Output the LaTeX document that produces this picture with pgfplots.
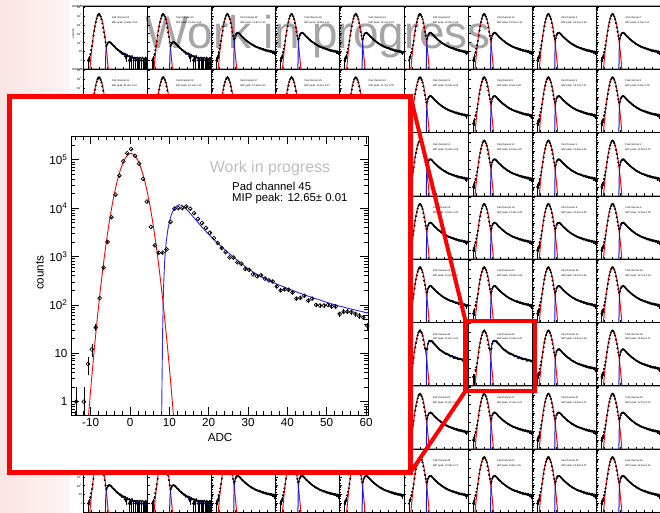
\documentclass[border=0pt]{standalone}
\usepackage{pgfplots}
\pgfplotsset{compat=1.18}
\usepackage{pgfplotstable}
\usepackage{fontspec}
\setmainfont{Liberation Sans}

% ---------- inset data (Pad channel 45) ----------
\pgfplotstableread{
x y e
-13.7 1 0.99
-11.7 1 0.99
-10.7 6 2.4
-9.7 12 3.5
-8.7 34 5.8
-7.7 138 11.7
-6.7 590 24
-5.7 2000 45
-4.7 6500 81
-3.7 19000 138
-2.7 47000 217
-1.7 93000 305
-0.7 137000 370
0.3 166000 407
1.3 120000 346
2.3 83000 288
3.3 40000 200
4.3 13700 117
5.3 4100 64
6.3 1700 41
7.3 1200 35
8.3 1200 35
9.3 1400 37
10.3 5200 72
11.3 9700 98
12.3 10000 100
13.3 10000 100
14.3 10800 104
15.3 9700 98
16.3 7900 89
17.3 6000 77
18.3 4900 70
19.3 3900 62
20.3 3100 56
21.3 2400 49
22.3 1900 44
23.3 1500 39
24.3 1230 35
25.3 960 31
26.3 950 31
27.3 760 28
28.3 710 27
29.3 550 23
30.3 530 23
31.3 430 21
32.3 390 20
33.3 410 20
34.3 350 19
35.3 320 18
36.3 305 17
37.3 240 15.5
38.3 200 14
39.3 210 14.5
40.3 205 14.3
41.3 180 13.4
42.3 135 11.6
43.3 140 11.8
44.3 155 12.4
45.3 123 11
46.3 135 11.6
47.3 100 10
48.3 97 9.8
49.3 97 9.8
50.3 100 10
51.3 93 9.6
52.3 93 9.6
53.3 65 8
54.3 72 8.5
55.3 72 8.5
56.3 71 8.4
57.3 65 8
58.3 59 7.7
59.3 55 7.4
60.3 37 6.1
}\ptsA

\pgfplotstableread{
x y e
-13.7 1 0.99
-11.7 1 0.99
-10.7 6 2.4
-9.7 12 3.5
}\errA

% ---------- medium-signal channels ----------
\pgfplotstableread{
x y
-13.7 1
-12.7 2
-11.7 3
-10.7 8
-9.7 20
-8.7 50
-7.7 150
-6.7 600
-5.7 2100
-4.7 6600
-3.7 19000
-2.7 48000
-1.7 95000
-0.7 140000
0.3 160000
1.3 125000
2.3 80000
3.3 42000
4.3 15000
5.3 5000
6.3 1600
7.3 560
8.3 240
9.3 300
10.3 620
11.3 950
12.3 1150
13.3 1250
14.3 1150
15.3 950
16.3 760
17.3 600
18.3 470
19.3 400
20.3 320
21.3 270
22.3 215
23.3 185
24.3 150
25.3 135
26.3 112
27.3 95
28.3 84
29.3 70
30.3 62
31.3 58
32.3 48
33.3 46
34.3 38
35.3 36
36.3 31
37.3 30
38.3 27
39.3 26
40.3 22
41.3 24
42.3 19
43.3 20
44.3 16
45.3 18
46.3 14
47.3 16
48.3 12
49.3 14
50.3 11
51.3 13
52.3 10
53.3 12
54.3 9
55.3 11
56.3 8
57.3 10
58.3 6
59.3 9
60.3 3
}\ptsB

\pgfplotstableread{
x y e
-13.7 1 0.97
-12.7 2 1.4
-11.7 3 1.7
-10.7 8 2.8
56.3 8 2.8
58.3 6 2.4
60.3 3 1.7
}\errB

% ---------- low-signal channels ----------
\pgfplotstableread{
x y
-13.7 1
-12.7 1
-11.7 2
-10.7 5
-9.7 14
-8.7 40
-7.7 140
-6.7 580
-5.7 2000
-4.7 6400
-3.7 19500
-2.7 47000
-1.7 94000
-0.7 138000
0.3 162000
1.3 122000
2.3 81000
3.3 41000
4.3 14000
5.3 4500
6.3 1400
7.3 420
8.3 110
9.3 40
10.3 60
11.3 90
12.3 105
13.3 112
14.3 100
15.3 88
16.3 70
17.3 52
18.3 46
19.3 36
20.3 30
21.3 22
22.3 21
23.3 15
24.3 14
25.3 12
26.3 9
27.3 10
28.3 6
29.3 7
30.3 5
31.3 6
32.3 3
33.3 5
34.3 2
35.3 4
36.3 3
37.3 1
38.3 3
39.3 2
40.3 1
41.3 3
42.3 2
43.3 1
44.3 2
45.3 1
46.3 2
47.3 1
48.3 2
49.3 1
50.3 1
51.3 2
52.3 1
53.3 1
54.3 2
55.3 1
56.3 1
57.3 1
58.3 2
59.3 1
60.3 1
}\ptsC

\pgfplotstableread{
x y e
-13.7 1 0.97
-12.7 1 0.97
-11.7 2 1.4
-10.7 5 2.2
32.3 3 1.7
34.3 2 1.4
37.3 1 0.97
39.3 2 1.4
40.3 1 0.97
43.3 1 0.97
45.3 1 0.97
47.3 1 0.97
49.3 1 0.97
50.3 1 0.97
52.3 1 0.97
53.3 1 0.97
55.3 1 0.97
56.3 1 0.97
57.3 1 0.97
59.3 1 0.97
60.3 1 0.97
}\errC

% ---------- pedestal (Gaussian) fit, sampled ----------
\pgfplotstableread{
x y
-11.25 0.096
-11 0.176
-10.5 0.573
-10 1.76
-9.5 5.14
-9 14.2
-8.5 37.2
-8 92.5
-7.5 218
-7 485
-6.5 1028
-6 2061
-5.5 3917
-5 7063
-4.5 12050
-4 19500
-3.5 29900
-3 43550
-2.5 60000
-2 78500
-1.5 97300
-1 114100
-0.5 127000
0 134000
0.25 135000
0.5 134000
1 127000
1.5 114100
2 97300
2.5 78500
3 60000
3.5 43550
4 29900
4.5 19500
5 12050
5.5 7063
6 3917
6.5 2061
7 1028
7.5 485
8 218
8.5 92.5
9 37.2
9.5 14.2
10 5.14
10.5 1.76
11 0.573
11.5 0.176
11.75 0.096
}\redT

% ---------- MIP (Landau-like) fit, sampled ----------
\pgfplotstableread{
x A B C
8.0 0.08 0.08 0.05
8.05 0.5 0.1 0.06
8.15 3 0.4 0.08
8.3 30 3.3 0.3
8.5 200 22 2
8.8 800 89 8
9.2 2000 222 20
9.6 3500 390 35
10.0 5200 580 52
10.5 7300 810 73
11 9000 1000 90
11.5 10400 1160 104
12 11300 1260 113
12.5 11700 1300 117
13 11500 1280 115
13.5 10900 1210 109
14 10100 1120 101
15 8300 920 83
16 6700 745 67
17 5400 600 54
18 4300 480 43
19 3500 390 35
20 2900 322 29
21 2400 267 24
22 2000 222 20
23 1680 187 16.8
24 1400 156 14
26 1020 113 10.2
28 750 83 7.5
30 560 62 5.6
32 440 49 4.4
34 360 40 3.6
36 300 33 3.0
38 255 28 2.55
40 220 24.4 2.2
42 190 21 1.9
44 165 18.3 1.65
46 145 16.1 1.45
48 128 14.2 1.28
50 113 12.6 1.13
52 101 11.2 1.01
54 91 10.1 0.91
56 83 9.2 0.83
58 76 8.4 0.76
60.5 68 7.6 0.68
}\blueT

\definecolor{wipgray}{RGB}{165,165,165}
\definecolor{wiplight}{RGB}{190,190,190}
\definecolor{slideL}{RGB}{250,228,228}
\definecolor{slideR}{RGB}{254,243,243}
\definecolor{fitblue}{RGB}{40,40,255}
\definecolor{smallblue}{RGB}{20,20,220}

\newcommand\smallplot[9]{%
\begin{axis}[anchor=north west, at={(#1bp,513bp-#2bp)},
    width=64.2bp, height=63.3bp, scale only axis,
    ymode=log, xmin=-20, xmax=60, ymin=0.1, ymax=1.25e6,
    xtick={-20,-10,...,60}, xticklabels={},
    ytick={0.1,1,10,100,1000,10000,100000,1000000},
    minor ytick={0.2,0.4,0.6,0.8,2,4,6,8,20,40,60,80,200,400,600,800,2000,4000,6000,8000,20000,40000,60000,80000,200000,400000,600000,800000},
    xtick pos=bottom, ytick pos=left,
    tick align=inside, major tick length=2.5bp, minor tick length=1.3bp,
    every tick/.style={black, line width=0.3bp},
    axis line style={line width=0.6bp},
    /pgf/number format/assume math mode=true,
    #7]
\addplot[only marks, mark=*, mark size=0.8bp, black] table[x=x,y=y]{#3};
\addplot[draw=none, black, error bars/.cd, y dir=both, y explicit,
  error bar style={line width=0.4bp}, error mark=none] table[x=x,y=y,y error=e]{#9};
\addplot[red, line width=1bp] table[x=x,y=y]{\redT};
\addplot[smallblue, line width=1bp] table[x=x,y=#4]{\blueT};
\node[anchor=west, inner sep=0, font=\fontsize{2.5}{3}\selectfont] at (rel axis cs:0.45,0.815) {Pad channel #5};
\node[anchor=west, inner sep=0, font=\fontsize{2.5}{3}\selectfont] at (rel axis cs:0.45,0.735) {MIP peak: #6± #8};
\end{axis}}

\begin{document}
\begin{tikzpicture}
\useasboundingbox (0,0) rectangle (660bp,513bp);
\clip (0,0) rectangle (660bp,513bp);
\fill[white] (0,0) rectangle (660bp,513bp);
\shade[left color=slideL, right color=slideR] (0,0) rectangle (70bp,513bp);

% big watermark
\node[anchor=base west, inner sep=0, text=wipgray, font=\fontsize{46}{50}\selectfont] at (145bp,464bp) {Work in progress};

% row separators
\foreach \yy in {6,69.3,132.6,195.9,259.2,322.5,385.8,449.1}{
  \draw[gray!65, line width=1.6bp] (72bp,513bp-\yy bp) -- (660bp,513bp-\yy bp);
}

% ---- row 0 ----
\smallplot{82.8}{6}{\ptsC}{C}{32}{13.09}{yticklabels={,1,10,10\textsuperscript{2},10\textsuperscript{3},10\textsuperscript{4},10\textsuperscript{5},10\textsuperscript{6}}, yticklabel style={font=\fontsize{3}{3}\selectfont, inner sep=0.6bp}, ylabel={counts}, ylabel style={font=\fontsize{3}{3}\selectfont, at={(axis description cs:-0.15,0.56)}, anchor=center}}{0.02}{\errC}
\smallplot{147}{6}{\ptsC}{C}{30}{13.40}{yticklabels={}}{0.03}{\errC}
\smallplot{211.2}{6}{\ptsB}{B}{28}{12.87}{yticklabels={}}{0.02}{\errB}
\smallplot{275.4}{6}{\ptsB}{B}{26}{13.88}{yticklabels={}}{0.11}{\errB}
\smallplot{339.6}{6}{\ptsB}{B}{24}{13.21}{yticklabels={}}{0.04}{\errB}
\smallplot{403.8}{6}{\ptsB}{B}{15}{12.50}{yticklabels={}}{0.08}{\errB}
\smallplot{468}{6}{\ptsB}{B}{12}{14.00}{yticklabels={}}{0.10}{\errB}
\smallplot{532.2}{6}{\ptsB}{B}{5}{14.04}{yticklabels={}}{0.08}{\errB}
\smallplot{596.4}{6}{\ptsB}{B}{7}{9.79}{yticklabels={}}{0.11}{\errB}
% ---- row 1 ----
\smallplot{82.8}{69.3}{\ptsB}{B}{34}{11.00}{yticklabels={,1,10,10\textsuperscript{2},10\textsuperscript{3},10\textsuperscript{4},10\textsuperscript{5},10\textsuperscript{6}}, yticklabel style={font=\fontsize{3}{3}\selectfont, inner sep=0.6bp}}{0.02}{\errB}
\smallplot{147}{69.3}{\ptsB}{B}{29}{14.10}{yticklabels={}}{0.11}{\errB}
\smallplot{211.2}{69.3}{\ptsB}{B}{27}{13.66}{yticklabels={}}{0.03}{\errB}
\smallplot{275.4}{69.3}{\ptsB}{B}{25}{13.02}{yticklabels={}}{0.07}{\errB}
\smallplot{339.6}{69.3}{\ptsB}{B}{23}{12.70}{yticklabels={}}{0.05}{\errB}
\smallplot{403.8}{69.3}{\ptsB}{B}{13}{13.55}{yticklabels={}}{0.09}{\errB}
\smallplot{468}{69.3}{\ptsB}{B}{8}{9.64}{yticklabels={}}{0.08}{\errB}
\smallplot{532.2}{69.3}{\ptsB}{B}{3}{13.14}{yticklabels={}}{0.13}{\errB}
\smallplot{596.4}{69.3}{\ptsB}{B}{1}{9.45}{yticklabels={}}{0.05}{\errB}
% ---- rows 2-6, right columns ----
\smallplot{403.8}{132.6}{\ptsB}{B}{14}{13.40}{yticklabels={}}{0.06}{\errB}
\smallplot{468}{132.6}{\ptsB}{B}{10}{13.60}{yticklabels={}}{0.07}{\errB}
\smallplot{532.2}{132.6}{\ptsB}{B}{4}{12.66}{yticklabels={}}{0.05}{\errB}
\smallplot{596.4}{132.6}{\ptsB}{B}{2}{12.60}{yticklabels={}}{0.13}{\errB}
\smallplot{403.8}{195.9}{\ptsB}{B}{18}{13.90}{yticklabels={}}{0.05}{\errB}
\smallplot{468}{195.9}{\ptsB}{B}{16}{13.35}{yticklabels={}}{0.06}{\errB}
\smallplot{532.2}{195.9}{\ptsB}{B}{9}{12.80}{yticklabels={}}{0.05}{\errB}
\smallplot{596.4}{195.9}{\ptsB}{B}{6}{12.93}{yticklabels={}}{0.08}{\errB}
\smallplot{403.8}{259.2}{\ptsB}{B}{44}{13.20}{yticklabels={}}{0.04}{\errB}
\smallplot{468}{259.2}{\ptsB}{B}{40}{13.62}{yticklabels={}}{0.04}{\errB}
\smallplot{532.2}{259.2}{\ptsB}{B}{35}{13.01}{yticklabels={}}{0.04}{\errB}
\smallplot{596.4}{259.2}{\ptsB}{B}{33}{12.71}{yticklabels={}}{0.06}{\errB}
\smallplot{403.8}{322.5}{\ptsA}{A}{46}{12.81}{yticklabels={}}{0.01}{\errA}
\smallplot{468}{322.5}{\ptsA}{A}{45}{12.65}{yticklabels={}}{0.01}{\errA}
\smallplot{532.2}{322.5}{\ptsB}{B}{42}{12.51}{yticklabels={}}{0.06}{\errB}
\smallplot{596.4}{322.5}{\ptsB}{B}{38}{11.55}{yticklabels={}}{0.07}{\errB}
\smallplot{403.8}{385.8}{\ptsB}{B}{51}{12.92}{yticklabels={}}{0.05}{\errB}
\smallplot{468}{385.8}{\ptsB}{B}{47}{11.61}{yticklabels={}}{0.07}{\errB}
\smallplot{532.2}{385.8}{\ptsB}{B}{37}{12.92}{yticklabels={}}{0.07}{\errB}
\smallplot{596.4}{385.8}{\ptsB}{B}{39}{12.75}{yticklabels={}}{0.07}{\errB}
% ---- row 7 ----
\smallplot{82.8}{449.1}{\ptsC}{C}{60}{12.34}{yticklabels={,1,10,10\textsuperscript{2},10\textsuperscript{3},10\textsuperscript{4},10\textsuperscript{5},10\textsuperscript{6}}, yticklabel style={font=\fontsize{3}{3}\selectfont, inner sep=0.6bp}}{0.09}{\errC}
\smallplot{147}{449.1}{\ptsC}{C}{58}{13.11}{yticklabels={}}{0.08}{\errC}
\smallplot{211.2}{449.1}{\ptsB}{B}{56}{12.70}{yticklabels={}}{0.06}{\errB}
\smallplot{275.4}{449.1}{\ptsB}{B}{54}{12.95}{yticklabels={}}{0.05}{\errB}
\smallplot{339.6}{449.1}{\ptsB}{B}{52}{13.30}{yticklabels={}}{0.06}{\errB}
\smallplot{403.8}{449.1}{\ptsB}{B}{48}{13.08}{yticklabels={}}{0.17}{\errB}
\smallplot{468}{449.1}{\ptsB}{B}{50}{8.89}{yticklabels={}}{0.25}{\errB}
\smallplot{532.2}{449.1}{\ptsB}{B}{41}{12.80}{yticklabels={}}{0.07}{\errB}
\smallplot{596.4}{449.1}{\ptsB}{B}{43}{11.13}{yticklabels={}}{0.10}{\errB}

% ---- inset ----
\filldraw[fill=white, draw=red, line width=4.5bp] (9.5bp,40.5bp) rectangle (410.5bp,416.5bp);
\begin{axis}[at={(71bp,98bp)}, anchor=south west, width=297bp, height=279bp, scale only axis,
  ymode=log, xmin=-15, xmax=60.5, ymin=0.53, ymax=3.1e5,
  xtick={-10,0,...,60}, minor xtick={-14,-12,...,60},
  ytick={1,10,100,1000,10000,100000},
  yticklabels={1,10,10\textsuperscript{2},10\textsuperscript{3},10\textsuperscript{4},10\textsuperscript{5}},
  minor ytick={0.6,0.7,0.8,0.9,2,3,4,5,6,7,8,9,20,30,40,50,60,70,80,90,200,300,400,500,600,700,800,900,2000,3000,4000,5000,6000,7000,8000,9000,20000,30000,40000,50000,60000,70000,80000,90000,200000,300000},
  tick align=inside, major tick length=8bp, minor tick length=4bp,
  every tick/.style={black, line width=0.6bp},
  axis line style={line width=0.8bp},
  /pgf/number format/assume math mode=true,
  ticklabel style={font=\fontsize{11.7}{13}\selectfont},
  xlabel={ADC}, ylabel={counts},
  label style={font=\fontsize{11.7}{13}\selectfont},
  xlabel style={at={(axis description cs:0.502,-0.082)}, anchor=center},
  ylabel style={at={(axis description cs:-0.105,0.51)}, anchor=center}]
\addplot[only marks, mark=o, mark size=1.9bp, black, mark options={fill=white, line width=0.7bp},
  error bars/.cd, y dir=both, y explicit, error bar style={line width=0.7bp}, error mark=none]
  table[x=x,y=y,y error=e]{\ptsA};
\addplot[red, line width=0.9bp] table[x=x,y=y]{\redT};
\addplot[fitblue, line width=0.9bp] table[x=x,y=A]{\blueT};
\end{axis}
\node[inner sep=0, text=wiplight, font=\fontsize{16}{18}\selectfont] at (270bp,345bp) {Work in progress};
\node[anchor=west, inner sep=0, font=\fontsize{11.4}{13}\selectfont] at (232bp,327bp) {Pad channel 45};
\node[anchor=west, inner sep=0, font=\fontsize{11.4}{13}\selectfont] at (232bp,314.5bp) {MIP peak: 12.65± 0.01};

% highlight and connectors
\draw[red, line width=4.5bp] (465.5bp,192bp) rectangle (535bp,122bp);
\draw[red, line width=4bp] (410.5bp,416.5bp) -- (465.5bp,192bp);
\draw[red, line width=4bp] (410.5bp,40.5bp) -- (465.5bp,122bp);
\end{tikzpicture}
\end{document}
